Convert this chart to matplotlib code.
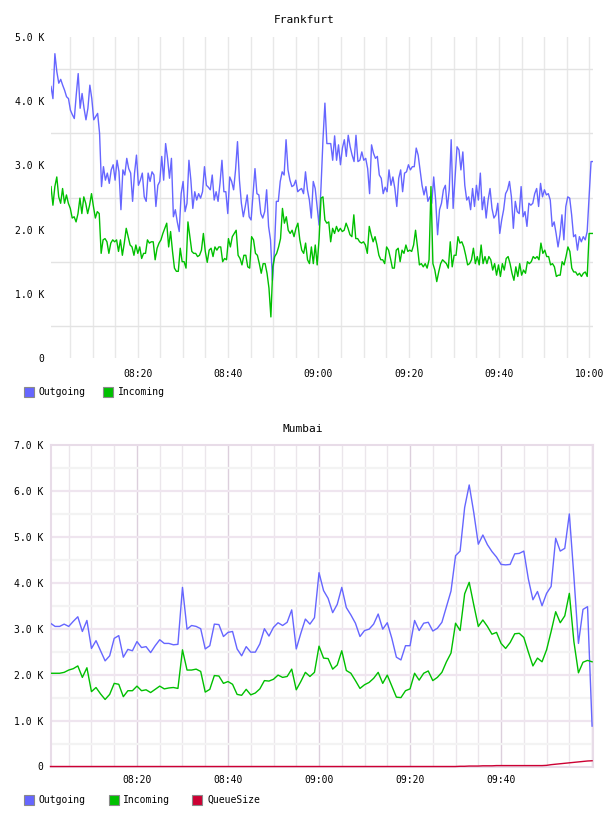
import numpy as np
import matplotlib
matplotlib.use("Agg")
import matplotlib.pyplot as plt
from matplotlib.patches import Rectangle

W, H = 608, 816
plt.rcParams["font.family"] = ["DejaVu Sans Mono"]

BLUE = "#6666ff"
GREEN = "#00c000"
RED = "#cc0033"

# minutes after 08:00
tick_minutes = [20, 40, 60, 80, 100, 120]
tick_labels = ["08:20", "08:40", "09:00", "09:20", "09:40", "10:00"]

# Frankfurt, values in K (roughly every 25 s, 08:00:48 -> 10:00:48)
fra_out = [
    4.23, 4.04, 4.74, 4.46, 4.28, 4.34, 4.25, 4.17, 4.07, 4.04,
    3.86, 3.79, 3.73, 4.10, 4.43, 3.89, 4.12, 3.89, 3.71, 3.89,
    4.25, 4.04, 3.71, 3.76, 3.81, 3.50, 2.67, 2.98, 2.77, 2.88,
    2.72, 2.93, 3.01, 2.77, 3.08, 2.90, 2.31, 2.93, 2.85, 3.11,
    2.95, 2.88, 2.44, 2.88, 3.16, 2.69, 2.77, 2.88, 2.51, 2.44,
    2.88, 2.75, 2.90, 2.85, 2.36, 2.69, 2.75, 3.14, 2.77, 3.34,
    3.11, 2.80, 3.11, 2.20, 2.31, 2.12, 1.97, 2.56, 2.75, 2.28,
    2.41, 3.08, 2.77,
    2.33, 2.59, 2.46, 2.56, 2.49, 2.59, 2.98, 2.69, 2.66, 2.62,
    2.85, 2.46, 2.59, 2.44, 2.72, 3.08, 2.59, 2.59, 2.25, 2.82,
    2.75, 2.62, 2.93, 3.37, 2.77, 2.41, 2.20, 2.36, 2.54, 2.20,
    2.15, 2.56, 2.95, 2.56, 2.54, 2.25, 2.18, 2.28, 2.62, 2.05,
    1.84, 1.21, 1.68, 2.44, 2.44, 2.75, 2.90, 2.85, 3.40, 2.93,
    2.77, 2.67, 2.69, 2.77, 2.59, 2.62, 2.64, 2.56, 2.90, 2.62,
    2.46, 2.18, 2.75, 2.64, 2.36, 2.07, 2.67, 3.40, 3.97, 3.34,
    3.34, 3.34, 3.08, 3.46, 3.08, 3.32, 3.01, 3.27, 3.40, 3.14,
    3.47, 3.29, 3.16, 3.06, 3.47, 3.06, 3.08, 3.21, 3.08, 3.11,
    2.95, 2.56, 3.32, 3.19, 3.11, 3.14, 2.85, 2.80, 2.56, 2.66,
    2.59, 2.93, 2.69, 2.82, 2.64, 2.36, 2.80, 2.93, 2.59, 2.88,
    2.90, 3.01, 2.93, 2.98, 2.98, 3.27, 3.16, 2.93, 2.69, 2.54,
    2.67, 2.44, 2.51, 2.41, 2.82, 2.46, 1.92, 2.31, 2.41, 2.62,
    2.69, 2.33, 2.62, 3.40, 2.33, 2.82, 3.29, 3.24, 2.93,
    3.21, 2.69, 2.46, 2.51, 2.31, 2.64, 2.36, 2.69, 2.46, 2.88,
    2.31, 2.51, 2.18, 2.46, 2.64, 2.33, 2.18, 2.23, 2.41, 1.94,
    2.15, 2.31, 2.56, 2.62, 2.75, 2.51, 2.02, 2.44, 2.28, 2.25,
    2.67, 2.20, 2.28, 2.05, 2.41, 2.38, 2.41, 2.56, 2.64, 2.36,
    2.72, 2.51, 2.62, 2.54, 2.56, 2.46, 2.05, 2.12, 1.94, 1.73,
    1.92, 2.23, 1.84, 2.36, 2.51, 2.49, 2.23, 1.89, 1.92, 1.68,
    1.89, 1.81, 1.89, 1.84, 1.97, 2.51, 3.06, 3.06,
]
fra_in = [
    2.67, 2.38, 2.67, 2.82, 2.51, 2.41, 2.64, 2.41, 2.54, 2.41,
    2.33, 2.18, 2.20, 2.12, 2.25, 2.49, 2.25, 2.51, 2.41, 2.25,
    2.38, 2.56, 2.36, 2.18, 2.28, 2.25, 1.63, 1.84, 1.86, 1.81,
    1.63, 1.79, 1.84, 1.81, 1.84, 1.66, 1.84, 1.60, 1.79, 2.02,
    1.89, 1.76, 1.73, 1.60, 1.76, 1.63, 1.73, 1.55, 1.63, 1.63,
    1.84, 1.79, 1.81, 1.81, 1.53, 1.71, 1.79, 1.84, 1.94, 2.02,
    2.10, 1.73, 1.97, 1.66, 1.40, 1.35, 1.35, 1.71, 1.50, 1.50,
    1.40, 2.12, 1.89,
    1.66, 1.63, 1.63, 1.58, 1.60, 1.68, 1.94, 1.66, 1.49, 1.68,
    1.71, 1.58, 1.73, 1.68, 1.73, 1.73, 1.50, 1.55, 1.53, 1.86,
    1.73, 1.89, 1.94, 1.99, 1.60, 1.55, 1.45, 1.60, 1.60, 1.42,
    1.40, 1.89, 1.84, 1.63, 1.60, 1.47, 1.32, 1.47, 1.47, 1.32,
    1.09, 0.64, 1.42, 1.58, 1.63, 1.73, 1.86, 2.33, 2.10, 2.20,
    1.99, 1.94, 1.99, 1.89, 2.02, 2.10, 1.84, 1.68, 1.63, 1.79,
    1.53, 1.47, 1.73, 1.47, 1.76, 1.45, 1.86, 2.49, 2.51, 2.15,
    2.10, 2.12, 1.81, 2.02, 1.94, 2.05, 1.97, 2.02, 1.97, 1.99,
    2.10, 2.02, 1.92, 1.89, 2.23, 1.86, 1.86, 1.81, 1.79, 1.81,
    1.76, 1.63, 2.05, 1.92, 1.81, 1.89, 1.76, 1.60, 1.53, 1.53,
    1.47, 1.73, 1.68, 1.55, 1.40, 1.40, 1.68, 1.71, 1.50, 1.68,
    1.63, 1.76, 1.66, 1.68, 1.66, 1.76, 1.99, 1.73, 1.45, 1.47,
    1.42, 1.47, 1.40, 1.53, 2.67, 1.47, 1.37, 1.19, 1.34, 1.47,
    1.53, 1.50, 1.47, 1.40, 1.81, 1.42, 1.60, 1.60, 1.89, 1.79,
    1.81,
    1.73, 1.60, 1.45, 1.47, 1.53, 1.71, 1.47, 1.58, 1.45, 1.76,
    1.47, 1.58, 1.47, 1.58, 1.53, 1.37, 1.47, 1.29, 1.45, 1.27,
    1.47, 1.37, 1.55, 1.58, 1.47, 1.32, 1.21, 1.42, 1.27, 1.47,
    1.29, 1.37, 1.32, 1.50, 1.47, 1.50, 1.58, 1.55, 1.58, 1.53,
    1.79, 1.63, 1.68, 1.58, 1.58, 1.45, 1.47, 1.42, 1.27, 1.29,
    1.29, 1.50, 1.45, 1.58, 1.73, 1.66, 1.40, 1.34, 1.34, 1.29,
    1.32, 1.27, 1.32, 1.34, 1.27, 1.94, 1.94, 1.94,
]

# Mumbai, values in K, one per minute 08:01 -> 10:00
mum_out = [
    3.12, 3.05, 3.05, 3.10, 3.05, 3.16, 3.26, 2.94, 3.18, 2.57,
    2.74, 2.52, 2.30, 2.41, 2.79, 2.85, 2.38, 2.55, 2.52, 2.72,
    2.59, 2.61, 2.48, 2.63, 2.76, 2.68, 2.68, 2.65, 2.66, 3.90,
    2.99, 3.07, 3.05, 3.00, 2.56, 2.63, 3.10, 3.09, 2.83, 2.92,
    2.94, 2.56, 2.41, 2.61, 2.49, 2.49, 2.67, 3.00, 2.84, 3.03,
    3.13, 3.07, 3.14, 3.41, 2.56, 2.90, 3.21, 3.10, 3.24, 4.22,
    3.83, 3.66, 3.35, 3.53, 3.90, 3.46, 3.30, 3.12, 2.83, 2.96,
    2.99, 3.10, 3.32, 2.99, 3.13, 2.79, 2.38, 2.32, 2.63, 2.63,
    3.18, 2.96, 3.12, 3.14, 2.95, 3.01, 3.14, 3.48, 3.82, 4.59,
    4.69, 5.64, 6.13, 5.53, 4.84, 5.04, 4.83, 4.68, 4.56, 4.40,
    4.39, 4.40, 4.63, 4.64, 4.69, 4.08, 3.63, 3.81, 3.50, 3.77,
    3.92, 4.97, 4.69, 4.75, 5.50, 4.14, 2.68, 3.42, 3.48, 0.88,
]
mum_in = [
    2.03, 2.03, 2.03, 2.05, 2.10, 2.13, 2.19, 1.94, 2.15, 1.63,
    1.72, 1.58, 1.46, 1.57, 1.81, 1.79, 1.52, 1.65, 1.65, 1.75,
    1.65, 1.67, 1.61, 1.68, 1.75, 1.69, 1.71, 1.72, 1.70, 2.54,
    2.10, 2.10, 2.12, 2.07, 1.62, 1.68, 1.98, 1.97, 1.81, 1.85,
    1.79, 1.57, 1.55, 1.68, 1.56, 1.60, 1.69, 1.87, 1.86, 1.90,
    1.99, 1.94, 1.96, 2.12, 1.67, 1.85, 2.05, 1.96, 2.05, 2.62,
    2.36, 2.35, 2.12, 2.21, 2.52, 2.09, 2.03, 1.87, 1.70, 1.78,
    1.83, 1.92, 2.05, 1.81, 1.99, 1.75, 1.51, 1.50, 1.65, 1.69,
    2.03, 1.88, 2.03, 2.08, 1.87, 1.94, 2.05, 2.28, 2.47, 3.12,
    2.96, 3.76, 4.01, 3.52, 3.05, 3.19, 3.05, 2.88, 2.92, 2.68,
    2.57, 2.70, 2.89, 2.90, 2.81, 2.49, 2.19, 2.36, 2.28, 2.54,
    2.94, 3.37, 3.13, 3.28, 3.77, 2.72, 2.04, 2.27, 2.31, 2.28,
]
mum_queue = [
    0.0, 0.0, 0.0, 0.0, 0.0, 0.0, 0.0, 0.0, 0.0, 0.0,
    0.0, 0.0, 0.0, 0.0, 0.0, 0.0, 0.0, 0.0, 0.0, 0.0,
    0.0, 0.0, 0.0, 0.0, 0.0, 0.0, 0.0, 0.0, 0.0, 0.0,
    0.0, 0.0, 0.0, 0.0, 0.0, 0.0, 0.0, 0.0, 0.0, 0.0,
    0.0, 0.0, 0.0, 0.0, 0.0, 0.0, 0.0, 0.0, 0.0, 0.0,
    0.0, 0.0, 0.0, 0.0, 0.0, 0.0, 0.0, 0.0, 0.0, 0.0,
    0.0, 0.0, 0.0, 0.0, 0.0, 0.0, 0.0, 0.0, 0.0, 0.0,
    0.0, 0.0, 0.0, 0.0, 0.0, 0.0, 0.0, 0.0, 0.0, 0.0,
    0.0, 0.0, 0.0, 0.0, 0.0, 0.0, 0.0, 0.0, 0.0, 0.0,
    0.005, 0.005, 0.01, 0.01, 0.01, 0.015, 0.015, 0.015, 0.02, 0.02,
    0.02, 0.02, 0.02, 0.02, 0.02, 0.02, 0.02, 0.02, 0.02, 0.025,
    0.04, 0.05, 0.06, 0.07, 0.08, 0.09, 0.10, 0.11, 0.12, 0.125,
]


def fmt_k(v):
    return "0" if v == 0 else f"{v:.1f} K"


fig = plt.figure(figsize=(W / 100, H / 100), dpi=100)


def px_axes(left, top, right, bottom):
    return fig.add_axes([left / W, 1 - bottom / H, (right - left) / W, (bottom - top) / H])


def legend_item(x, yc, color, label):
    fig.add_artist(Rectangle((x / W, 1 - (yc + 5) / H), 10 / W, 10 / H,
                             transform=fig.transFigure, facecolor=color,
                             edgecolor="#8a8a8a", lw=0.8))
    fig.text((x + 14.8) / W, 1 - yc / H, label, ha="left", va="center", fontsize=7)


# --- Frankfurt ---
ax1 = px_axes(51, 37, 593, 358)
t_out = np.linspace(0.8, 120.8, len(fra_out))
t_in = np.linspace(0.8, 120.8, len(fra_in))
for m in range(5, 121, 5):
    ax1.axvline(m, color="#e8e8e8", lw=1, zorder=0)
for v in np.arange(0.5, 5, 1.0):
    ax1.axhline(v, color="#e3e3e3", lw=1, zorder=0)
ax1.plot(t_out, fra_out, color=BLUE, lw=1.0, zorder=3)
ax1.plot(t_in, fra_in, color=GREEN, lw=1.0, zorder=4)
ax1.set_xlim(0.8, 120.8)
ax1.set_ylim(0, 5)
ax1.set_yticks(range(0, 6))
ax1.set_yticklabels([fmt_k(v) for v in range(0, 6)])
ax1.set_xticks(tick_minutes)
ax1.set_xticklabels(tick_labels)
ax1.tick_params(axis="y", length=0, pad=5, labelsize=7)
ax1.tick_params(axis="x", length=0, pad=8, labelsize=7)
for s in ax1.spines.values():
    s.set_visible(False)
fig.text(304 / W, 1 - 20 / H, "Frankfurt", ha="center", va="center", fontsize=8)
legend_item(24, 392, BLUE, "Outgoing")
legend_item(103, 392, GREEN, "Incoming")

# --- Mumbai ---
ax2 = px_axes(50.5, 445, 593, 766.5)
t_m = np.arange(1, len(mum_out) + 1)
for m in range(5, 121, 5):
    c = "#dccfdc" if m % 20 == 0 else "#ebe6eb"
    ax2.axvline(m, color=c, lw=1, zorder=0)
for v in np.arange(0.5, 7, 0.5):
    c = "#efe5ef" if v % 1 == 0 else "#f3f3f3"
    ax2.axhline(v, color=c, lw=1.6, zorder=0)
ax2.plot(t_m, mum_out, color=BLUE, lw=1.0, zorder=3)
ax2.plot(t_m, mum_in, color=GREEN, lw=1.0, zorder=4)
ax2.plot(t_m, mum_queue, color=RED, lw=1.0, zorder=5, clip_on=False)
ax2.set_xlim(1, 120.2)
ax2.set_ylim(0, 7)
ax2.set_yticks(range(0, 8))
ax2.set_yticklabels([fmt_k(v) for v in range(0, 8)])
ax2.set_xticks(tick_minutes[:-1])
ax2.set_xticklabels(tick_labels[:-1])
ax2.tick_params(axis="y", length=0, pad=5, labelsize=7)
ax2.tick_params(axis="x", length=0, pad=6, labelsize=7)
for s in ax2.spines.values():
    s.set_color("#e8dce8")
    s.set_linewidth(1.5)
fig.text(303 / W, 1 - 429 / H, "Mumbai", ha="center", va="center", fontsize=8)
legend_item(24, 800, BLUE, "Outgoing")
legend_item(108.6, 800, GREEN, "Incoming")
legend_item(192.3, 800, RED, "QueueSize")

fig.savefig("out.png", dpi=100)
